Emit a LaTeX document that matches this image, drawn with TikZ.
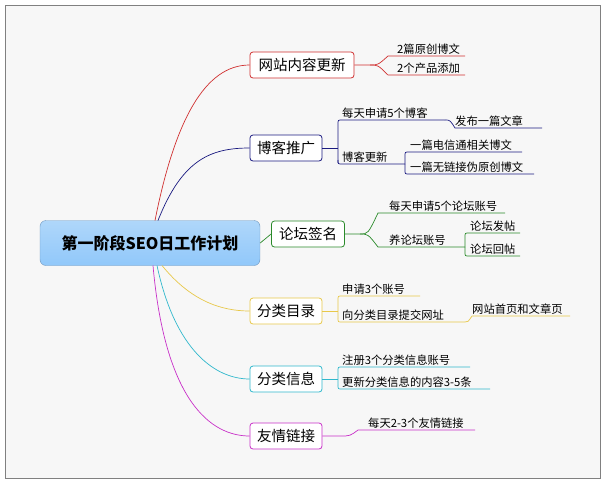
\documentclass[tikz,border=0pt]{standalone}
\usepackage{fontspec}
\setmainfont{Noto Sans CJK SC}
\begin{document}
\begin{tikzpicture}[x=1pt,y=-1pt,
  br/.style={draw=#1,fill=white,rounded corners=3pt,line width=0.8pt,font=\fontsize{14.5}{16}\selectfont,inner sep=0pt,minimum height=26pt},
  lf/.style={anchor=south west,inner sep=1pt,font=\fontsize{11.3}{13}\selectfont},
  ln/.style={draw=#1,line width=0.7pt}]
\definecolor{cr}{HTML}{D03030}\definecolor{cb}{HTML}{1A1A80}\definecolor{cg}{HTML}{2A8A2A}
\definecolor{cy}{HTML}{E8C84A}\definecolor{cc}{HTML}{30B8CC}\definecolor{cm}{HTML}{C830C8}
\useasboundingbox (0,0) rectangle (606,483);
\draw[gray,fill={rgb,255:red,247;green,247;blue,247}] (5,5) rectangle (600,478);
\node[draw={rgb,255:red,110;green,150;blue,190},top color={rgb,255:red,175;green,215;blue,250},bottom color={rgb,255:red,145;green,200;blue,250},rounded corners=6pt,minimum width=220pt,minimum height=45pt,font=\bfseries\fontsize{16}{18}\selectfont] (c) at (150,243) {第一阶段SEO日工作计划};
\node[br=cr,minimum width=104pt] (a) at (302,65) {网站内容更新};
\node[br=cb,minimum width=72pt] (b) at (286,148) {博客推广};
\node[br=cg,minimum width=73pt] (g) at (308,234) {论坛签名};
\node[br=cy,minimum width=72pt] (y) at (286,311) {分类目录};
\node[br=cc,minimum width=72pt] (cy2) at (286,379) {分类信息};
\node[br=cm,minimum width=72pt] (m) at (286,436) {友情链接};
% main connectors
\draw[ln=cr] (155,220.5) .. controls (175,120) and (205,65) .. (a.west);
\draw[ln=cb] (158,220.5) .. controls (182,160) and (210,148) .. (b.west);
\draw[ln=cg] (c.east) -- (g.west);
\draw[ln=cy] (162,265.5) .. controls (190,300) and (220,311) .. (y.west);
\draw[ln=cc] (157,265.5) .. controls (175,350) and (215,379) .. (cy2.west);
\draw[ln=cm] (153,265.5) .. controls (165,400) and (210,436) .. (m.west);
% red
\coordinate (af) at (370,65);
\draw[ln=cr] (a.east) -- (af) .. controls (378,65) .. (388,56) -- (465,56);
\draw[ln=cr] (af) .. controls (378,65) .. (388,75) -- (465,75);
\node[lf] (a1) at (396,56) {2篇原创博文};
\node[lf] (a2) at (396,75) {2个产品添加};
% blue
\draw[ln=cb] (b.east) -- (338,148);
\draw[ln=cb] (338,163) -- (338,124) .. controls (338,120) .. (342,120) -- (445,120);
\draw[ln=cb] (338,160) .. controls (338,164) .. (342,164) -- (405,164);
\node[lf] (b1) at (341,120) {每天申请5个博客};
\node[lf] (b2) at (341,164) {博客更新};
\draw[ln=cb] (445,120) .. controls (450,120) .. (455,128) -- (542,128);
\node[lf] (b11) at (454,128) {发布一篇文章};
\draw[ln=cb] (405,164) -- (405,156) .. controls (405,152) .. (409,152) -- (522,152);
\draw[ln=cb] (405,164) -- (405,170) .. controls (405,174) .. (409,174) -- (534,174);
\node[lf] (b21) at (409,152) {一篇电信通相关博文};
\node[lf] (b22) at (409,174) {一篇无链接伪原创博文};
% green
\coordinate (gf) at (360,234);
\draw[ln=cg] (g.east) -- (gf) .. controls (368,234) .. (378,213) -- (505,213);
\draw[ln=cg] (gf) .. controls (368,234) .. (378,247) -- (465,247);
\node[lf] (g1) at (388,213) {每天申请5个论坛账号};
\node[lf] (g2) at (388,247) {养论坛账号};
\draw[ln=cg] (465,247) -- (465,237) .. controls (465,233) .. (469,233) -- (520,233);
\draw[ln=cg] (465,247) -- (465,252) .. controls (465,256) .. (469,256) -- (520,256);
\node[lf] (g21) at (469,233) {论坛发帖};
\node[lf] (g22) at (469,256) {论坛回帖};
% yellow
\draw[ln=cy] (y.east) -- (338,311);
\draw[ln=cy] (338,318) -- (338,300) .. controls (338,296) .. (342,296) -- (420,296);
\draw[ln=cy] (338,318) .. controls (338,322) .. (342,322) -- (465,322);
\node[lf] (y1) at (341,296) {申请3个账号};
\node[lf] (y2) at (341,322) {向分类目录提交网址};
\draw[ln=cy] (465,322) .. controls (468,322) .. (472,316) -- (570,316);
\node[lf] (y21) at (471,316) {网站首页和文章页};
% cyan
\draw[ln=cc] (cy2.east) -- (338,379);
\draw[ln=cc] (338,385) -- (338,371) .. controls (338,367) .. (342,367) -- (470,367);
\draw[ln=cc] (338,385) .. controls (338,389) .. (342,389) -- (490,389);
\node[lf] (c1) at (341,367) {注册3个分类信息账号};
\node[lf] (c2) at (341,389) {更新分类信息的内容3-5条};
% magenta
\draw[ln=cm] (m.east) -- (340,436) .. controls (350,436) .. (358,430) -- (475,430);
\node[lf] (m1) at (367,430) {每天2-3个友情链接};
\end{tikzpicture}
\end{document}
